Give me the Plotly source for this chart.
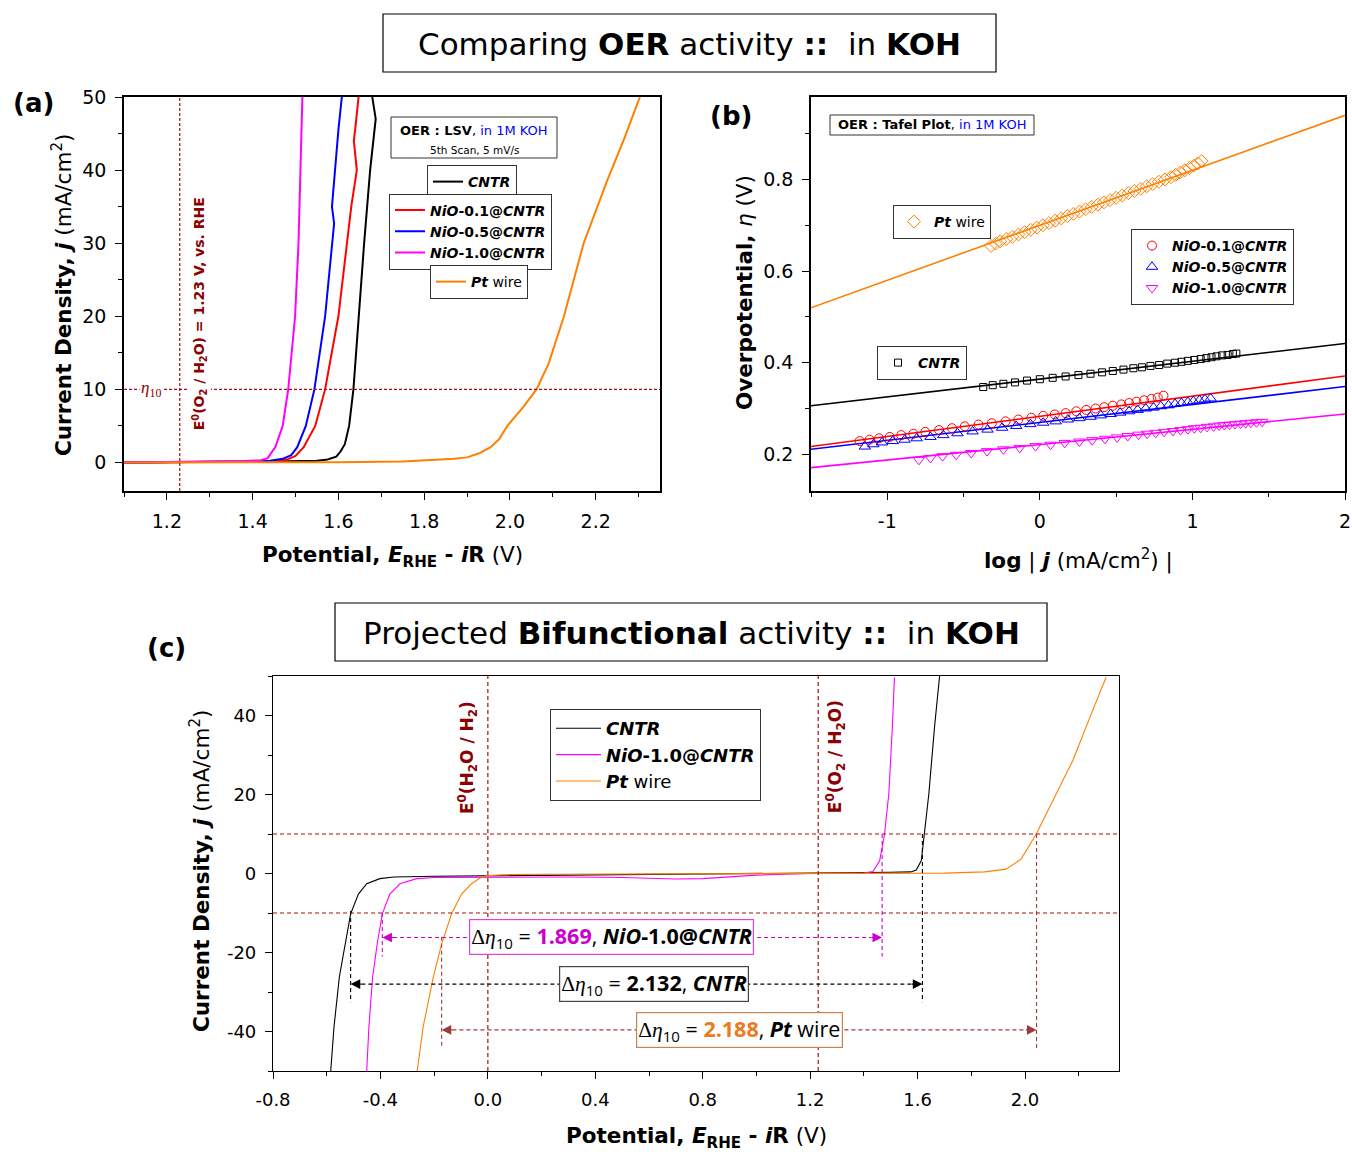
import plotly.graph_objects as go

W, H = 1352, 1152
def px(x): return x / W
def py(y): return 1 - y / H

BLACK = '#000000'; RED = '#FF0000'; BLUE = '#0000FF'; MAG = '#FF00FF'; ORG = '#FF8000'
DRED = '#8B0000'; REFL = '#A01010'
FAM = 'DejaVu Sans, Liberation Sans, Arial'

# ---------------- Panel (a): OER LSV ----------------
a_cntr_E = [1.10, 1.30, 1.45, 1.55, 1.575, 1.595, 1.605, 1.615, 1.625, 1.635, 1.647, 1.660, 1.674, 1.687, 1.679]
a_cntr_j = [0.00, 0.05, 0.15, 0.25, 0.40, 0.8, 1.5, 2.5, 5.0, 10.0, 20.0, 30.0, 40.0, 47.0, 50.0]
a_n01_E = [1.10, 1.30, 1.40, 1.45, 1.48, 1.50, 1.519, 1.546, 1.569, 1.600, 1.620, 1.630, 1.643, 1.636, 1.640, 1.647]
a_n01_j = [0.0, 0.05, 0.1, 0.2, 0.4, 0.9, 2.1, 5.0, 10.0, 20.0, 30.0, 35.0, 40.0, 44.0, 46.0, 50.0]
a_n05_E = [1.10, 1.30, 1.40, 1.44, 1.47, 1.49, 1.504, 1.524, 1.544, 1.569, 1.585, 1.590, 1.585, 1.592, 1.600, 1.608]
a_n05_j = [0.0, 0.05, 0.15, 0.25, 0.5, 1.0, 2.1, 5.0, 10.0, 20.0, 30.0, 32.7, 35.0, 40.0, 45.5, 50.0]
a_n10_E = [1.10, 1.30, 1.38, 1.42, 1.435, 1.453, 1.470, 1.483, 1.499, 1.507, 1.512, 1.516]
a_n10_j = [0.0, 0.1, 0.2, 0.3, 0.6, 2.1, 5.0, 10.0, 20.0, 30.0, 40.0, 50.0]
a_pt_E = [1.10, 1.40, 1.60, 1.75, 1.82, 1.87, 1.90, 1.93, 1.955, 1.975, 1.994, 2.030, 2.062, 2.090, 2.126, 2.172, 2.227, 2.268, 2.303]
a_pt_j = [0.0, 0.02, 0.05, 0.15, 0.3, 0.5, 0.7, 1.3, 2.1, 3.2, 5.0, 7.5, 10.0, 13.5, 20.0, 30.0, 38.6, 44.5, 50.0]

# ---------------- Panel (b): Tafel ----------------
b_pt_x = [-0.32, -0.29, -0.26, -0.22, -0.18, -0.14, -0.10, -0.06, -0.02, 0.02, 0.06, 0.10, 0.14, 0.18, 0.22, 0.26, 0.30,
          0.34, 0.38, 0.42, 0.46, 0.50, 0.54, 0.58, 0.62, 0.66, 0.70, 0.74, 0.78, 0.82, 0.86, 0.89, 0.92, 0.95, 0.98,
          1.01, 1.035, 1.06]
b_pt_y = [0.655, 0.660, 0.665, 0.670, 0.675, 0.680, 0.685, 0.690, 0.695, 0.700, 0.705, 0.710, 0.715, 0.720, 0.725,
          0.730, 0.735, 0.740, 0.745, 0.750, 0.755, 0.760, 0.765, 0.770, 0.775, 0.780, 0.785, 0.790, 0.795, 0.800,
          0.805, 0.810, 0.815, 0.820, 0.825, 0.830, 0.835, 0.840]
b_cntr_x = [-0.371, -0.309, -0.239, -0.163, -0.084, 0.000, 0.084, 0.169, 0.253, 0.332, 0.408, 0.478, 0.548, 0.613,
            0.669, 0.725, 0.782, 0.835, 0.886, 0.928, 0.970, 1.012, 1.054, 1.091, 1.125, 1.158, 1.195, 1.231, 1.265, 1.288]
b_cntr_y = [0.347, 0.351, 0.354, 0.357, 0.361, 0.364, 0.367, 0.370, 0.373, 0.376, 0.379, 0.382, 0.385, 0.388, 0.390,
            0.393, 0.395, 0.398, 0.400, 0.402, 0.404, 0.406, 0.408, 0.410, 0.412, 0.414, 0.416, 0.417, 0.419, 0.420]
b_n01_x = [-1.181, -1.116, -1.054, -0.984, -0.908, -0.829, -0.751, -0.661, -0.576, -0.492, -0.402, -0.315, -0.225,
           -0.141, -0.056, 0.022, 0.098, 0.169, 0.239, 0.304, 0.365, 0.422, 0.478, 0.534, 0.585, 0.633, 0.683, 0.731,
           0.773, 0.810]
b_n01_y = [0.229, 0.232, 0.235, 0.238, 0.242, 0.245, 0.249, 0.253, 0.257, 0.261, 0.265, 0.268, 0.272, 0.276, 0.280,
           0.284, 0.287, 0.290, 0.294, 0.297, 0.300, 0.303, 0.306, 0.309, 0.312, 0.315, 0.318, 0.321, 0.324, 0.328]
b_n05_x = [-1.147, -1.091, -1.035, -0.964, -0.886, -0.807, -0.717, -0.633, -0.540, -0.441, -0.343, -0.247, -0.155,
           -0.062, 0.022, 0.104, 0.183, 0.259, 0.332, 0.399, 0.464, 0.526, 0.585, 0.641, 0.694, 0.745, 0.793, 0.843,
           0.886, 0.928, 0.970, 1.006, 1.046, 1.082, 1.119]
b_n05_y = [0.217, 0.222, 0.226, 0.229, 0.232, 0.235, 0.238, 0.242, 0.246, 0.250, 0.254, 0.258, 0.262, 0.266, 0.269,
           0.272, 0.276, 0.279, 0.282, 0.285, 0.288, 0.291, 0.294, 0.297, 0.300, 0.302, 0.305, 0.307, 0.310, 0.312,
           0.314, 0.316, 0.318, 0.320, 0.322]
b_n10_x = [-0.793, -0.717, -0.638, -0.548, -0.450, -0.346, -0.239, -0.132, -0.028, 0.070, 0.163, 0.259, 0.343, 0.427,
           0.506, 0.576, 0.647, 0.703, 0.759, 0.815, 0.872, 0.922, 0.970, 1.012, 1.054, 1.096, 1.139, 1.175, 1.209,
           1.243, 1.279, 1.316, 1.349, 1.383, 1.420, 1.457]
b_n10_y = [0.188, 0.192, 0.196, 0.199, 0.203, 0.207, 0.211, 0.214, 0.218, 0.221, 0.225, 0.228, 0.231, 0.234, 0.237,
           0.240, 0.243, 0.245, 0.247, 0.249, 0.251, 0.253, 0.255, 0.257, 0.258, 0.260, 0.261, 0.263, 0.264, 0.265,
           0.266, 0.267, 0.268, 0.269, 0.270, 0.271]
b_fit_x = [-1.5, 2.0]
b_fit_pt = [0.520, 0.940]
b_fit_cntr = [0.306, 0.442]
b_fit_n01 = [0.217, 0.371]
b_fit_n05 = [0.211, 0.348]
b_fit_n10 = [0.171, 0.288]

# ---------------- Panel (c): bifunctional ----------------
c_cntr_E = [-0.585, -0.573, -0.553, -0.532, -0.511, -0.482, -0.451, -0.402, -0.35, -0.2, 0.0, 0.4, 0.8, 1.2, 1.5,
            1.575, 1.595, 1.614, 1.626, 1.642, 1.663, 1.679, 1.682]
c_cntr_j = [-50, -38.9, -26.2, -17.8, -10.2, -5.2, -2.6, -1.3, -0.9, -0.7, -0.6, -0.4, -0.2, 0.0, 0.3,
            0.4, 0.9, 3.3, 10.0, 20.2, 37.0, 47.0, 50.0]
c_n10_E = [-0.451, -0.443, -0.429, -0.412, -0.393, -0.365, -0.327, -0.265, -0.2, 0.0, 0.3, 0.5, 0.6, 0.7, 0.8, 0.9,
           1.0, 1.2, 1.40, 1.434, 1.459, 1.477, 1.493, 1.506, 1.514]
c_n10_j = [-50, -38.9, -26.2, -17.8, -10.2, -5.2, -2.6, -1.3, -1.0, -0.9, -0.9, -1.0, -1.2, -1.4, -1.3, -0.8,
           -0.4, 0.0, 0.1, 0.5, 3.3, 10.0, 20.2, 37.0, 49.7]
c_pt_E = [-0.263, -0.241, -0.203, -0.172, -0.135, -0.098, -0.061, -0.03, -0.005, 0.05, 0.2, 0.6, 1.0, 1.4, 1.7, 1.85,
          1.93, 1.986, 2.042, 2.104, 2.178, 2.252, 2.302]
c_pt_j = [-50, -38.9, -26.2, -17.8, -10.2, -5.2, -2.6, -1.2, -0.6, -0.3, -0.2, -0.1, 0.0, 0.0, 0.1, 0.4,
          1.1, 3.7, 10.0, 18.5, 28.6, 41.3, 49.7]
# potentials at -10 / +10 mA/cm2 used for the delta-eta markers: NiO-1.0, CNTR, Pt
c_her10 = [-0.393, -0.511, -0.172]
c_oer10 = [1.468, 1.618, 2.043]
c_delta = ['1.869', '2.132', '2.188']

# tick labels
a_xticks = [1.2, 1.4, 1.6, 1.8, 2.0, 2.2]
a_yticks = [0, 10, 20, 30, 40, 50]
b_xticks = [-1, 0, 1, 2]
b_yticks = [0.2, 0.4, 0.6, 0.8]
c_xticks = [-0.8, -0.4, 0.0, 0.4, 0.8, 1.2, 1.6, 2.0]
c_yticks = [-40, -20, 0, 20, 40]

fig = go.Figure()

# ---- traces (a)
A_T = [('<b><i>CNTR</i></b>', a_cntr_E, a_cntr_j, BLACK, 'legend'),
       ('<b><i>NiO</i>-0.1@<i>CNTR</i></b>', a_n01_E, a_n01_j, RED, 'legend2'),
       ('<b><i>NiO</i>-0.5@<i>CNTR</i></b>', a_n05_E, a_n05_j, BLUE, 'legend2'),
       ('<b><i>NiO</i>-1.0@<i>CNTR</i></b>', a_n10_E, a_n10_j, MAG, 'legend2'),
       ('<b><i>Pt</i></b> wire', a_pt_E, a_pt_j, ORG, 'legend3')]
for name, E, j, col, leg in A_T:
    fig.add_trace(go.Scatter(x=E, y=j, mode='lines', name=name, line=dict(color=col, width=2),
                             xaxis='x', yaxis='y', legend=leg))

# ---- traces (b)
for yv, col in [(b_fit_pt, ORG), (b_fit_cntr, BLACK), (b_fit_n01, RED), (b_fit_n05, BLUE), (b_fit_n10, MAG)]:
    fig.add_trace(go.Scatter(x=b_fit_x, y=yv, mode='lines', line=dict(color=col, width=1.6),
                             showlegend=False, xaxis='x2', yaxis='y2'))
B_T = [('<b><i>Pt</i></b> wire', b_pt_x, b_pt_y, ORG, 'diamond-open', 10, 'legend4'),
       ('<b><i>CNTR</i></b>', b_cntr_x, b_cntr_y, BLACK, 'square-open', 7, 'legend6'),
       ('<b><i>NiO</i>-0.1@<i>CNTR</i></b>', b_n01_x, b_n01_y, RED, 'circle-open', 9, 'legend5'),
       ('<b><i>NiO</i>-0.5@<i>CNTR</i></b>', b_n05_x, b_n05_y, BLUE, 'triangle-up-open', 10, 'legend5'),
       ('<b><i>NiO</i>-1.0@<i>CNTR</i></b>', b_n10_x, b_n10_y, MAG, 'triangle-down-open', 10, 'legend5')]
for name, x, y, col, sym, sz, leg in B_T:
    fig.add_trace(go.Scatter(x=x, y=y, mode='markers', name=name,
                             marker=dict(symbol=sym, size=sz, color=col, line=dict(color=col, width=1)),
                             xaxis='x2', yaxis='y2', legend=leg))

# ---- traces (c)
for name, E, j, col in [('<b><i>CNTR</i></b>', c_cntr_E, c_cntr_j, BLACK),
                        ('<b><i>NiO</i>-1.0@<i>CNTR</i></b>', c_n10_E, c_n10_j, MAG),
                        ('<b><i>Pt</i></b> wire', c_pt_E, c_pt_j, ORG)]:
    fig.add_trace(go.Scatter(x=E, y=j, mode='lines', name=name, line=dict(color=col, width=1.1),
                             xaxis='x3', yaxis='y3', legend='legend7'))

TICKF_AB = dict(family=FAM, size=19, color='black')
TICKF_C = dict(family=FAM, size=18, color='black')

def fmt(v, nd):
    return ('%.' + str(nd) + 'f') % v

def ax(domain, rng, tv, nd, mdtick, m0, anchor, font, lw=1.5):
    return dict(domain=domain, range=rng, tickvals=tv, ticktext=[fmt(v, nd) for v in tv], anchor=anchor,
                ticks='outside', ticklen=7, tickwidth=1.3, tickcolor='black', automargin=False,
                minor=dict(dtick=mdtick, tick0=m0, ticks='outside', ticklen=4, tickwidth=1.3, tickcolor='black'),
                showline=True, mirror=True, linecolor='black', linewidth=lw,
                showgrid=False, zeroline=False, tickfont=font, ticklabelstandoff=5)

fig.update_layout(
    width=W, height=H, autosize=False, margin=dict(l=0, r=0, t=0, b=0, pad=0),
    paper_bgcolor='white', plot_bgcolor='white',
    xaxis=ax([px(124), px(660)], [1.1, 2.35], a_xticks, 1, 0.1, 1.2, 'y', TICKF_AB),
    yaxis=ax([py(491), py(97)], [-3.9, 50], a_yticks, 0, 5, 0, 'x', TICKF_AB),
    xaxis2=ax([px(811), px(1345)], [-1.5, 2.0], b_xticks, 0, 0.5, 0, 'y2', TICKF_AB),
    yaxis2=ax([py(491), py(97)], [0.12, 0.98], b_yticks, 1, 0.1, 0.2, 'x2', TICKF_AB),
    xaxis3=ax([px(273), px(1119)], [-0.8, 2.35], c_xticks, 1, 0.2, -0.8, 'y3', TICKF_C, lw=1.2),
    yaxis3=ax([py(1071), py(676)], [-50, 50], c_yticks, 0, 10, 0, 'x3', TICKF_C, lw=1.2),
)

def leg(x, yc, size, iw=30):
    return dict(x=px(x), y=py(yc), xanchor='left', yanchor='middle', bgcolor='white', bordercolor='#333333',
                borderwidth=1, font=dict(family=FAM, size=size, color='black'),
                tracegroupgap=0, itemwidth=iw)

fig.update_layout(
    legend=leg(427, 182, 14), legend2=leg(389, 231.5, 14), legend3=leg(430, 282, 14),
    legend4=leg(893, 222, 14), legend5=leg(1131, 267, 14), legend6=leg(877, 363, 14),
    legend7=leg(550, 755, 18, 45),
)

shapes = []
ann = []

def A(**k):
    k.setdefault('xanchor', 'center')
    k.setdefault('yanchor', 'middle')
    k.setdefault('showarrow', False)
    ann.append(k)

# title boxes
shapes.append(dict(type='rect', xref='paper', yref='paper', x0=px(383), x1=px(996), y0=py(72), y1=py(14),
                   line=dict(color='black', width=1.2), fillcolor='white', layer='below'))
A(x=px(689), y=py(44), xref='paper', yref='paper',
  text='Comparing <b>OER</b> activity <b>::</b>\u00a0 in <b>KOH</b>', font=dict(family=FAM, size=31, color='black'))
shapes.append(dict(type='rect', xref='paper', yref='paper', x0=px(335), x1=px(1047), y0=py(661), y1=py(603),
                   line=dict(color='black', width=1.2), fillcolor='white', layer='below'))
A(x=px(691), y=py(633), xref='paper', yref='paper',
  text='Projected <b>Bifunctional</b> activity <b>::</b>\u00a0 in <b>KOH</b>', font=dict(family=FAM, size=31, color='black'))
# panel labels
for t, x, y in [('(a)', 33, 103), ('(b)', 731, 116), ('(c)', 166, 648)]:
    A(x=px(x), y=py(y), xref='paper', yref='paper', text='<b>%s</b>' % t, font=dict(family=FAM, size=26, color='black'))

AXF = dict(family=FAM, size=21.5, color='black')
for x, y, t, ang in [
    (62, 295, '<b>Current Density, <i>j</i></b> (mA/cm<sup>2</sup>)', -90),
    (392, 556, '<b>Potential, <i>E</i><sub>RHE</sub> - <i>i</i>R</b> (V)', 0),
    (744, 293, '<b>Overpotential, </b><i>η</i> (V)', -90),
    (1078, 559, '<b>log</b> | <b><i>j</i></b> (mA/cm<sup>2</sup>) |', 0),
    (200, 871, '<b>Current Density, <i>j</i></b> (mA/cm<sup>2</sup>)', -90),
    (696, 1137, '<b>Potential, <i>E</i><sub>RHE</sub> - <i>i</i>R</b> (V)', 0)]:
    A(x=px(x), y=py(y), xref='paper', yref='paper', text=t, textangle=ang, font=AXF)

# ---- panel (a) decorations
DOT = '3px,2px'
shapes.append(dict(type='line', xref='x', yref='y domain', x0=1.23, x1=1.23, y0=0, y1=1,
                   line=dict(color=REFL, width=1.2, dash=DOT)))
shapes.append(dict(type='line', xref='x domain', yref='y', x0=0, x1=1, y0=10, y1=10,
                   line=dict(color=REFL, width=1.2, dash=DOT)))
A(x=1.162, y=10, xref='x', yref='y', text='<i>η</i><sub>10</sub>', bgcolor='white',
  font=dict(family='Liberation Serif', size=17, color=DRED))
A(x=1.277, y=20.4, xref='x', yref='y', textangle=-90, bgcolor='white',
  text='<b>E<sup>0</sup>(O<sub>2</sub> / H<sub>2</sub>O) = 1.23 V, vs. RHE</b>',
  font=dict(family=FAM, size=14, color=DRED))
shapes.append(dict(type='rect', xref='paper', yref='paper', x0=px(391), x1=px(557), y0=py(158), y1=py(117),
                   line=dict(color='#333333', width=1), fillcolor='white'))
A(x=px(474), y=py(130), xref='paper', yref='paper',
  text='<b>OER : LSV</b>, <span style="color:#0000FF">in 1M KOH</span>', font=dict(family=FAM, size=13, color='black'))
A(x=px(474), y=py(150), xref='paper', yref='paper', text='5th Scan, 5 mV/s',
  font=dict(family=FAM, size=10.5, color='black'))

# ---- panel (b) info box
shapes.append(dict(type='rect', xref='paper', yref='paper', x0=px(830), x1=px(1034), y0=py(135), y1=py(115),
                   line=dict(color='#333333', width=1), fillcolor='white'))
A(x=px(932), y=py(125), xref='paper', yref='paper',
  text='<b>OER : Tafel Plot</b>, <span style="color:#0000FF">in 1M KOH</span>', font=dict(family=FAM, size=13, color='black'))

# ---- panel (c) decorations
DASH = '4px,3px'
for xv in [0.0, 1.23]:
    shapes.append(dict(type='line', xref='x3', yref='y3 domain', x0=xv, x1=xv, y0=0, y1=1,
                       line=dict(color=REFL, width=1.2, dash=DASH)))
for yv in [10, -10]:
    shapes.append(dict(type='line', xref='x3 domain', yref='y3', x0=0, x1=1, y0=yv, y1=yv,
                       line=dict(color=REFL, width=1.2, dash=DASH)))
A(x=-0.075, y=29.4, xref='x3', yref='y3', textangle=-90,
  text='<b>E<sup>0</sup>(H<sub>2</sub>O / H<sub>2</sub>)</b>', font=dict(family=FAM, size=17, color=DRED))
A(x=1.295, y=29.6, xref='x3', yref='y3', textangle=-90,
  text='<b>E<sup>0</sup>(O<sub>2</sub> / H<sub>2</sub>O)</b>', font=dict(family=FAM, size=17, color=DRED))

ARROW_COLS = ['#CC00CC', '#000000', '#9E3A3A']
ARROW_J = [-16.2, -28.0, -39.6]
VLINE_L = [(-10, -21), (-9.5, -32.6), (-16, -43.6)]
VLINE_R = [(10, -21), (10, -32.6), (10, -44.5)]
BOX_X = [0.462, 0.620, 0.938]
BOX_BORDER = ['#E040E0', '#444444', '#C8844F']
VAL_COL = ['#CC00CC', '#000000', '#EE7A1E']
LABELS = ['<b><i>NiO</i>-1.0@<i>CNTR</i></b>', '<b><i>CNTR</i></b>', '<b><i>Pt</i></b> wire']
for i in range(3):
    col = ARROW_COLS[i]
    el, er, jj = c_her10[i], c_oer10[i], ARROW_J[i]
    shapes.append(dict(type='line', xref='x3', yref='y3', x0=el, x1=el, y0=VLINE_L[i][0], y1=VLINE_L[i][1],
                       line=dict(color=col, width=1.1, dash=DASH)))
    shapes.append(dict(type='line', xref='x3', yref='y3', x0=er, x1=er, y0=VLINE_R[i][0], y1=VLINE_R[i][1],
                       line=dict(color=col, width=1.1, dash=DASH)))
    shapes.append(dict(type='line', xref='x3', yref='y3', x0=el + 0.04, x1=er - 0.04, y0=jj, y1=jj,
                       line=dict(color=col, width=1.1, dash=DASH)))
    for e, d in [(el, 0.045), (er, -0.045)]:
        ann.append(dict(x=e, y=jj, ax=e + d, ay=jj, xref='x3', yref='y3', axref='x3', ayref='y3', text='',
                        showarrow=True, arrowhead=2, arrowsize=1.6, arrowwidth=1.2, arrowcolor=col))
    A(x=BOX_X[i], y=jj, xref='x3', yref='y3', bgcolor='white',
      bordercolor=BOX_BORDER[i], borderwidth=1.2, borderpad=1,
      text='<span style="font-family:Liberation Serif">Δ<i>η</i></span><sub>10</sub> = <b><span style="color:%s">%s</span></b>, %s'
           % (VAL_COL[i], c_delta[i], LABELS[i]),
      font=dict(family='Open Sans, Lato, Liberation Sans', size=21.5, color='black'))

fig.update_layout(shapes=shapes, annotations=ann)
fig.write_html('out.html')
